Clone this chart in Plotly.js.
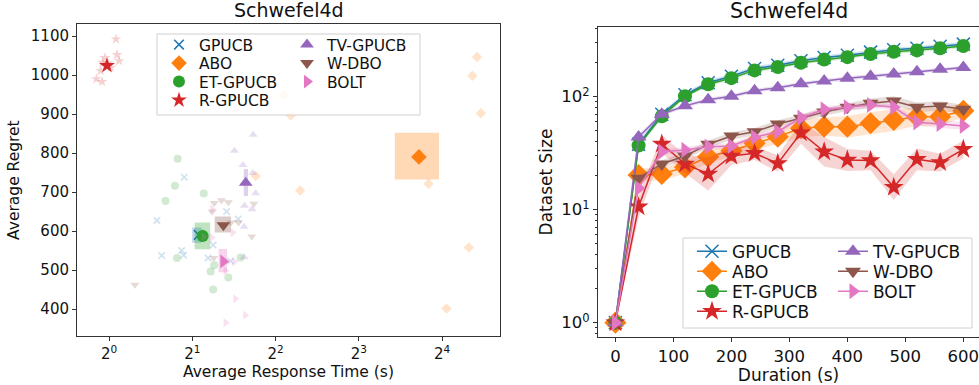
<!DOCTYPE html>
<html>
<head>
<meta charset="utf-8">
<script src="https://cdn.plot.ly/plotly-3.0.1.min.js"></script>
<style>html,body{margin:0;padding:0;background:#fff}#chart{width:979px;height:385px}</style>
</head>
<body>
<div id="chart"></div>
<script>
// ---------- data ----------
const algorithms = ["GPUCB", "ABO", "ET-GPUCB", "R-GPUCB", "TV-GPUCB", "W-DBO", "BOLT"];
const colors = ["#1f77b4", "#ff7f0e", "#2ca02c", "#d62728", "#9467bd", "#8c564b", "#e377c2"];
const symbols = ["x-thin", "diamond", "circle", "star", "triangle-up", "triangle-down", "triangle-right"];

// left panel: individual runs (response time s, regret)
const gpucbRunTime = [1.87, 1.49, 1.55, 1.83, 1.86, 2.28, 2.38, 2.66, 2.93, 2.75];
const gpucbRunRegret = [738, 627, 537, 550, 538, 531, 564, 650, 631, 523];
const aboRunTime = [4.27, 4.54, 4.91, 3.39, 21.4, 20.6, 22.1, 14.3, 20.0, 16.6];
const aboRunRegret = [947, 896, 704, 741, 1046, 998, 902, 721, 558, 401];
const etRunTime = [1.77, 1.73, 1.60, 2.20, 1.76, 2.40, 2.33, 2.70, 2.38, 2.99];
const etRunRegret = [785, 716, 677, 696, 531, 512, 496, 481, 450, 532];
const rRunTime = [1.06, 0.967, 1.069, 1.087, 0.947, 0.933, 1.014, 0.90, 0.943, 0.99];
const rRunRegret = [1092, 1044, 1052, 1036, 1032, 1011, 1019, 990, 983, 1030];
const tvRunTime = [2.89, 3.32, 2.84, 3.05, 3.31, 3.39, 3.09, 3.29, 3.08, 3.08];
const tvRunRegret = [912, 847, 806, 769, 749, 697, 665, 656, 611, 533];
const wdboRunTime = [2.40, 2.55, 2.70, 2.36, 2.76, 2.94, 3.34, 3.28, 2.39, 1.24];
const wdboRunRegret = [672, 679, 674, 650, 622, 622, 670, 586, 531, 462];
const boltRunTime = [2.36, 2.35, 2.80, 2.64, 2.84, 2.86, 3.11, 2.64, 2.20];
const boltRunRegret = [656, 583, 596, 498, 521, 426, 384, 365, 585];

// left panel: means and error boxes (same order as algorithms)
const meanTime = [2.11, 13.2, 2.18, 0.983, 3.12, 2.59, 2.59];
const meanRegret = [590, 790, 587, 1024, 724, 615, 522];
const timeLow = [2.00, 10.8, 2.04, 0.965, 3.07, 2.41, 2.49];
const timeHigh = [2.16, 15.6, 2.32, 1.0, 3.18, 2.76, 2.67];
const regretLow = [570, 732, 553, 1018, 690, 596, 494];
const regretHigh = [609, 852, 622, 1030, 759, 637, 554];

// right panel: dataset size vs duration
const duration = [0, 40, 80, 120, 160, 200, 240, 280, 320, 360, 400, 440, 480, 520, 560, 600];
const gpucbSize = [1, 38, 70, 104, 133, 152, 178, 190, 208, 222, 233, 248, 260, 268, 280, 292];
const aboSize = [1, 20.3, 20.7, 23.7, 29.4, 33.3, 38.7, 44.3, 52.5, 54.3, 54.3, 58.2, 62.2, 66.5, 66.5, 75.2];
const etSize = [1, 37, 67, 101, 129, 146, 171, 183, 200, 213, 224, 239, 250, 257, 268, 281];
const rSize = [1, 10.6, 38.1, 25.4, 20.7, 29.9, 31.6, 25.7, 48, 32.6, 27.5, 27.2, 15.8, 27.9, 26.1, 34.2];
const tvSize = [1, 44, 70, 83, 94, 101, 113, 120, 130, 138, 146, 152, 159, 166, 175, 181];
const wdboSize = [1, 19, 25.4, 29.9, 37.9, 44.9, 49, 57.3, 64.4, 73.2, 80.6, 87.5, 91.6, 80.6, 82.8, 77.3];
const boltSize = [1, 15.5, 32.6, 33.8, 36.1, 36.6, 43.7, 49, 65.2, 77.3, 80.6, 84.5, 80.6, 59.3, 57.3, 55.1];

// multiplicative spread of shaded band (upper = v*s, lower = v/s)
const gpucbSpread = [1, 1.05, 1.05, 1.05, 1.05, 1.05, 1.05, 1.05, 1.05, 1.05, 1.05, 1.05, 1.05, 1.05, 1.05, 1.05];
const aboSpread = [1, 1.14, 1.14, 1.14, 1.14, 1.14, 1.16, 1.16, 1.2, 1.2, 1.25, 1.25, 1.25, 1.2, 1.2, 1.15];
const etSpread = [1, 1.05, 1.05, 1.04, 1.04, 1.04, 1.04, 1.04, 1.04, 1.04, 1.04, 1.04, 1.04, 1.04, 1.04, 1.04];
const rSpread = [1, 1.25, 1.2, 1.2, 1.4, 1.2, 1.15, 1.18, 1.25, 1.35, 1.25, 1.22, 1.3, 1.25, 1.2, 1.2];
const tvSpread = [1, 1.06, 1.05, 1.04, 1.04, 1.04, 1.04, 1.04, 1.04, 1.04, 1.04, 1.04, 1.04, 1.04, 1.04, 1.04];
const wdboSpread = [1, 1.05, 1.08, 1.08, 1.08, 1.08, 1.08, 1.08, 1.08, 1.08, 1.08, 1.1, 1.1, 1.1, 1.1, 1.1];
const boltSpread = [1, 1.06, 1.06, 1.06, 1.06, 1.06, 1.06, 1.06, 1.06, 1.06, 1.06, 1.06, 1.06, 1.08, 1.08, 1.08];

// tick labels
const leftXTickVals = [1, 2, 4, 8, 16];
const leftXTickText = ["2<sup>0</sup>", "2<sup>1</sup>", "2<sup>2</sup>", "2<sup>3</sup>", "2<sup>4</sup>"];
const leftYTickVals = [400, 500, 600, 700, 800, 900, 1000, 1100];
const rightXTickVals = [0, 100, 200, 300, 400, 500, 600];
const rightYTickVals = [1, 10, 100];
const rightYTickText = ["10<sup>0</sup>", "10<sup>1</sup>", "10<sup>2</sup>"];
const rightYMinor = [0.8, 0.9, 2, 3, 4, 5, 6, 7, 8, 9, 20, 30, 40, 50, 60, 70, 80, 90, 200, 300, 400];

// ---------- build ----------
const W = 979, H = 385;
const px = v => v / W, py = v => 1 - v / H;
function rgba(hex, a) {
  const r = parseInt(hex.slice(1, 3), 16), g = parseInt(hex.slice(3, 5), 16), b = parseInt(hex.slice(5, 7), 16);
  return `rgba(${r},${g},${b},${a})`;
}
const runTimes = [gpucbRunTime, aboRunTime, etRunTime, rRunTime, tvRunTime, wdboRunTime, boltRunTime];
const runRegrets = [gpucbRunRegret, aboRunRegret, etRunRegret, rRunRegret, tvRunRegret, wdboRunRegret, boltRunRegret];
const sizes = [gpucbSize, aboSize, etSize, rSize, tvSize, wdboSize, boltSize];
const spreads = [gpucbSpread, aboSpread, etSpread, rSpread, tvSpread, wdboSpread, boltSpread];

// legend slot positions (pixel): column x, row centre y
const leftLegendX = [159, 159, 159, 159, 287, 287, 287];
const leftLegendY = [45, 63.5, 82, 100.5, 45, 63.5, 82];
const rightLegendX = [692, 692, 692, 692, 833, 833, 833];
const rightLegendY = [251.7, 271.7, 291.7, 311.7, 251.7, 271.7, 291.7];

const traces = [];
function markerFor(i, size, alpha) {
  const c = rgba(colors[i], alpha);
  if (symbols[i] === "x-thin") return {symbol: "x-thin", size: size * 0.8, color: c, line: {color: c, width: 1.6}};
  return {symbol: symbols[i], size: size, color: c, line: {width: 0}};
}
algorithms.forEach((name, i) => {
  traces.push({type: "scatter", mode: "markers", x: runTimes[i], y: runRegrets[i], xaxis: "x", yaxis: "y",
    marker: markerFor(i, 8, 0.22), showlegend: false, hoverinfo: "skip"});
  traces.push({type: "scatter", mode: "lines", xaxis: "x", yaxis: "y",
    x: [timeLow[i], timeHigh[i], timeHigh[i], timeLow[i], timeLow[i]],
    y: [regretLow[i], regretLow[i], regretHigh[i], regretHigh[i], regretLow[i]],
    fill: "toself", fillcolor: rgba(colors[i], 0.3), line: {width: 0}, showlegend: false, hoverinfo: "skip"});
  traces.push({type: "scatter", mode: "markers", x: [meanTime[i]], y: [meanRegret[i]], xaxis: "x", yaxis: "y",
    marker: markerFor(i, 12, 1), name: name, legend: "legend" + (i === 0 ? "" : (i + 1)), showlegend: true});
});
algorithms.forEach((name, i) => {
  const up = sizes[i].map((v, k) => v * spreads[i][k]);
  const lo = sizes[i].map((v, k) => v / spreads[i][k]);
  traces.push({type: "scatter", mode: "lines", xaxis: "x2", yaxis: "y2",
    x: duration.concat(duration.slice().reverse()), y: up.concat(lo.slice().reverse()),
    fill: "toself", fillcolor: rgba(colors[i], 0.2), line: {width: 0}, showlegend: false, hoverinfo: "skip"});
  const m = symbols[i] === "x-thin"
    ? {symbol: "x-thin", size: 13, color: colors[i], line: {color: colors[i], width: 1.5}}
    : {symbol: symbols[i], size: symbols[i] === "diamond" ? 17 : (symbols[i] === "star" ? 15 : 14), color: colors[i], line: {width: 0}};
  traces.push({type: "scatter", mode: "lines+markers", x: duration, y: sizes[i], xaxis: "x2", yaxis: "y2",
    line: {color: colors[i], width: 1.5}, marker: m, name: name, legend: "legend" + (i + 8)});
});

const font = "DejaVu Sans";
const axCommon = {showline: true, linecolor: "#333", linewidth: 1, ticks: "outside", ticklen: 4, tickcolor: "#333",
  showgrid: false, zeroline: false, tickfont: {family: font, size: 15, color: "#111"}};
const legCommon = (x, y, size) => ({x: px(x), y: py(y), xanchor: "left", yanchor: "middle", bgcolor: "rgba(0,0,0,0)",
  borderwidth: 0, font: {family: font, size: size, color: "#111"}, itemwidth: 30, tracegroupgap: 0});

const layout = {
  width: W, height: H, margin: {l: 0, r: 0, t: 0, b: 0}, paper_bgcolor: "#fff", plot_bgcolor: "#fff",
  font: {family: font, color: "#111"}, showlegend: true,
  xaxis: Object.assign({}, axCommon, {domain: [px(77), px(500)], type: "log", range: [-0.1159, 1.4137], mirror: true,
    tickmode: "array", tickvals: leftXTickVals, ticktext: leftXTickText, anchor: "y",
    title: {text: "Average Response Time (s)", font: {family: font, size: 15.5, color: "#111"}, standoff: 4}}),
  yaxis: Object.assign({}, axCommon, {domain: [py(336), py(24.3)], range: [330.8, 1130], mirror: true,
    tickmode: "array", tickvals: leftYTickVals, anchor: "x",
    title: {text: "Average Regret", font: {family: font, size: 15.5, color: "#111"}, standoff: 7}}),
  xaxis2: Object.assign({}, axCommon, {domain: [px(598), 1], range: [-30, 627], mirror: true, anchor: "y2",
    tickmode: "array", tickvals: rightXTickVals, ticklabeloverflow: "allow", tickfont: {family: font, size: 16.5, color: "#111"},
    title: {text: "Duration (s)", font: {family: font, size: 17, color: "#111"}, standoff: 2}}),
  yaxis2: Object.assign({}, axCommon, {domain: [py(337), py(27)], type: "log", range: [-0.127, 2.617], anchor: "x2",
    tickmode: "array", tickvals: rightYTickVals, ticktext: rightYTickText, tickfont: {family: font, size: 16.5, color: "#111"},
    minor: {tickmode: "array", tickvals: rightYMinor, ticks: "outside", ticklen: 2, tickcolor: "#333"},
    title: {text: "Dataset Size", font: {family: font, size: 17, color: "#111"}, standoff: 4}}),
  shapes: [
    {type: "rect", xref: "paper", yref: "paper", x0: px(157), x1: px(420), y0: py(115), y1: py(34),
      line: {color: "#d0d0d0", width: 1}, fillcolor: "rgba(255,255,255,0.8)", layer: "above"},
    {type: "rect", xref: "paper", yref: "paper", x0: px(683), x1: px(972), y0: py(328), y1: py(238),
      line: {color: "#d0d0d0", width: 1}, fillcolor: "rgba(255,255,255,0.8)", layer: "above"}
  ],
  annotations: [
    {text: "Schwefel4d", xref: "paper", yref: "paper", x: px(288.5), y: py(24.3), xanchor: "center", yanchor: "bottom",
      yshift: 1, showarrow: false, font: {family: font, size: 19, color: "#111"}},
    {text: "Schwefel4d", xref: "paper", yref: "paper", x: px(789), y: py(27), xanchor: "center", yanchor: "bottom",
      yshift: 2, showarrow: false, font: {family: font, size: 20.5, color: "#111"}}
  ]
};
for (let i = 0; i < 7; i++) {
  layout["legend" + (i === 0 ? "" : (i + 1))] = legCommon(leftLegendX[i], leftLegendY[i], 15.5);
  layout["legend" + (i + 8)] = legCommon(rightLegendX[i], rightLegendY[i], 17);
}
Plotly.newPlot("chart", traces, layout, {staticPlot: true, displayModeBar: false});
</script>
</body>
</html>
